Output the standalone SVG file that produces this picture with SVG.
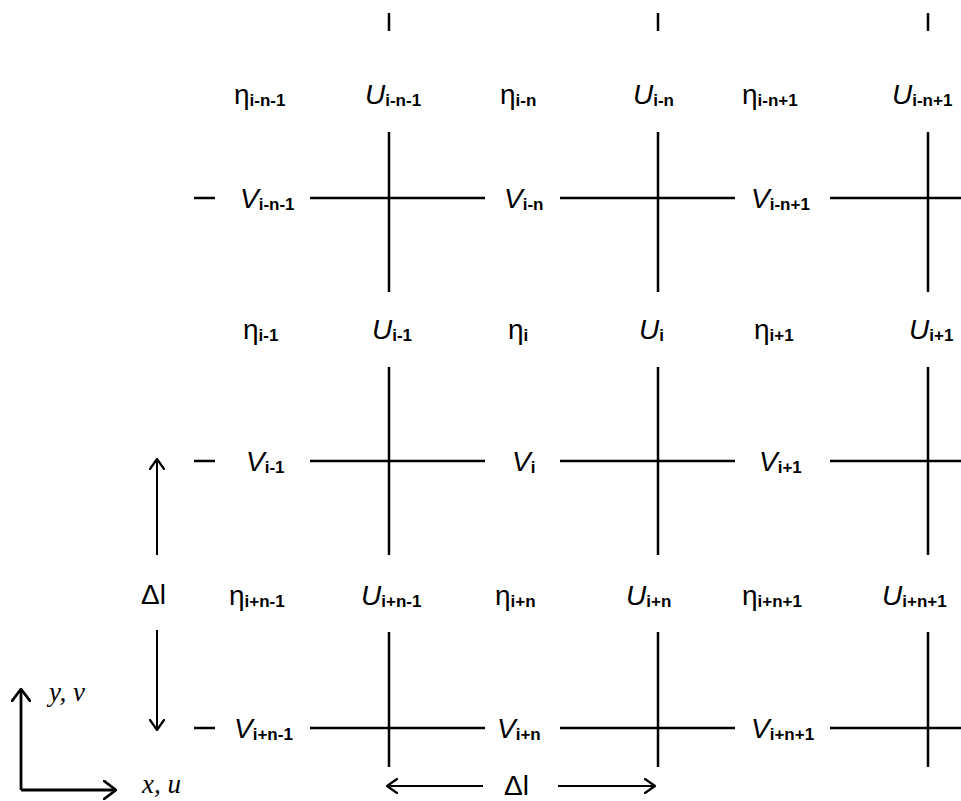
<svg xmlns="http://www.w3.org/2000/svg" width="961" height="801" viewBox="0 0 961 801">
<defs>
<marker id="ah" viewBox="0 0 12 16" refX="11" refY="8" markerWidth="12" markerHeight="16" markerUnits="userSpaceOnUse" orient="auto">
<path d="M1,1 L11,8 L1,15" fill="none" stroke="#000" stroke-width="2.2" stroke-linecap="round" stroke-linejoin="round"/>
</marker>
<marker id="ahs" viewBox="0 0 14 20" refX="13" refY="10" markerWidth="14" markerHeight="20" markerUnits="userSpaceOnUse" orient="auto">
<path d="M1,1 L13,10 L1,19" fill="none" stroke="#000" stroke-width="2.8" stroke-linecap="round" stroke-linejoin="round"/>
</marker>
</defs>
<style>
.ln{stroke:#000;stroke-width:2.5;fill:none}
.ar{stroke:#000;stroke-width:2;fill:none}
.ax{stroke:#000;stroke-width:2.8;fill:none}
.lab{font-family:"Liberation Sans",Arial,sans-serif;font-size:28px;fill:#000}
.it{font-style:italic}
.sub{font-size:17px;font-style:normal;font-weight:bold}
.axl{font-family:"Liberation Serif","Times New Roman",serif;font-style:italic;font-size:27px;fill:#000}
</style>
<rect width="961" height="801" fill="#fff"/>
<g id="connectors">
<path class="ln" d="M389,13V31 M389,132V292 M389,367V555 M389,632V767"/>
<path class="ln" d="M658,13V31 M658,132V292 M658,367V555 M658,632V767"/>
<path class="ln" d="M928,13V31 M928,132V292 M928,367V555 M928,632V767"/>
<path class="ln" d="M194,198H215 M310,198H485 M560,198H735 M830,198H961"/>
<path class="ln" d="M194,461H215 M310,461H485 M560,461H735 M830,461H961"/>
<path class="ln" d="M194,728H215 M310,728H485 M560,728H735 M830,728H961"/>
</g>
<g id="row1-labels">
<text class="lab" x="234" y="104">η<tspan class="sub" dy="2">i-n-1</tspan></text>
<text class="lab it" x="365" y="104">U<tspan class="sub" dy="2">i-n-1</tspan></text>
<text class="lab" x="500" y="104">η<tspan class="sub" dy="2">i-n</tspan></text>
<text class="lab it" x="633" y="104">U<tspan class="sub" dy="2">i-n</tspan></text>
<text class="lab" x="742" y="104">η<tspan class="sub" dy="2">i-n+1</tspan></text>
<text class="lab it" x="892" y="104">U<tspan class="sub" dy="2">i-n+1</tspan></text>
<text class="lab it" x="240" y="208">V<tspan class="sub" dy="2">i-n-1</tspan></text>
<text class="lab it" x="504" y="208">V<tspan class="sub" dy="2">i-n</tspan></text>
<text class="lab it" x="751" y="208">V<tspan class="sub" dy="2">i-n+1</tspan></text>
</g>
<g id="row2-labels">
<text class="lab" x="243" y="339">η<tspan class="sub" dy="2">i-1</tspan></text>
<text class="lab it" x="372" y="339">U<tspan class="sub" dy="2">i-1</tspan></text>
<text class="lab" x="508" y="339">η<tspan class="sub" dy="2">i</tspan></text>
<text class="lab it" x="639" y="339">U<tspan class="sub" dy="2">i</tspan></text>
<text class="lab" x="754" y="339">η<tspan class="sub" dy="2">i+1</tspan></text>
<text class="lab it" x="909" y="339">U<tspan class="sub" dy="2">i+1</tspan></text>
<text class="lab it" x="246" y="471">V<tspan class="sub" dy="2">i-1</tspan></text>
<text class="lab it" x="512" y="471">V<tspan class="sub" dy="2">i</tspan></text>
<text class="lab it" x="759" y="471">V<tspan class="sub" dy="2">i+1</tspan></text>
</g>
<g id="row3-labels">
<text class="lab" x="229" y="605">η<tspan class="sub" dy="2">i+n-1</tspan></text>
<text class="lab it" x="361" y="605">U<tspan class="sub" dy="2">i+n-1</tspan></text>
<text class="lab" x="495" y="605">η<tspan class="sub" dy="2">i+n</tspan></text>
<text class="lab it" x="626" y="605">U<tspan class="sub" dy="2">i+n</tspan></text>
<text class="lab" x="742" y="605">η<tspan class="sub" dy="2">i+n+1</tspan></text>
<text class="lab it" x="882" y="605">U<tspan class="sub" dy="2">i+n+1</tspan></text>
<text class="lab it" x="234" y="738">V<tspan class="sub" dy="2">i+n-1</tspan></text>
<text class="lab it" x="497" y="738">V<tspan class="sub" dy="2">i+n</tspan></text>
<text class="lab it" x="751" y="738">V<tspan class="sub" dy="2">i+n+1</tspan></text>
</g>
<g id="dimension-vertical">
<path class="ar" d="M157,555V459" marker-end="url(#ah)"/>
<text class="lab" x="141" y="604">Δl</text>
<path class="ar" d="M157,630V730" marker-end="url(#ah)"/>
</g>
<g id="dimension-horizontal">
<path class="ar" d="M483,786H387" marker-end="url(#ah)"/>
<text class="lab" x="504" y="795">Δl</text>
<path class="ar" d="M558,786H655" marker-end="url(#ah)"/>
</g>
<g id="axes">
<path class="ax" d="M21,790V689" marker-end="url(#ahs)"/>
<path class="ax" d="M21,790H116" marker-end="url(#ahs)"/>
<text class="axl" x="49" y="701">y, ν</text>
<text class="axl" x="142" y="793">x, u</text>
</g>
</svg>
